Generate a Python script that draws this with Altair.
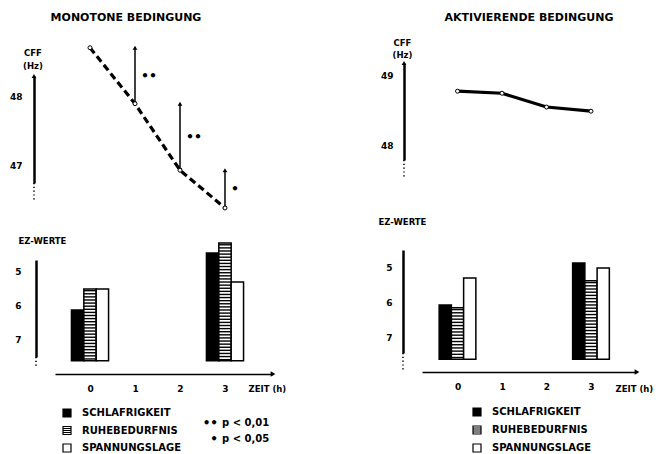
import altair as alt
import pandas as pd
import numpy as np

# ---------------- data ----------------
hours = [0, 1, 2, 3]
cff_monoton = [48.69, 47.89, 46.94, 46.40]
cff_aktiv = [48.78, 48.75, 48.55, 48.49]
sig_monoton = ["", "••", "••", "•"]

ez_hours = [0, 3]
ez_series = ["SCHLAFRIGKEIT", "RUHEBEDURFNIS", "SPANNUNGSLAGE"]
mono_schlaf = [6.13, 4.48]
mono_ruhe = [5.52, 4.19]
mono_spann = [5.52, 5.32]
akt_schlaf = [6.07, 4.89]
akt_ruhe = [6.15, 5.39]
akt_spann = [5.31, 5.03]

cff_ticks_mono = [47, 48]
cff_ticks_akt = [48, 49]
ez_ticks = [5, 6, 7]
x_ticks = [0, 1, 2, 3]
sig_marks = ["••", "•"]
sig_texts = ["p < 0,01", "p < 0,05"]
titles = ["MONOTONE  BEDINGUNG", "AKTIVIERENDE  BEDINGUNG"]

# ---------------- layout ----------------
W, H = 647, 446
FONT = "DejaVu Sans"
BW = 0.275          # width of one bar in hours
BASE = 7.6          # lower end of the EZ bars
STRIPE_STEP = 0.09
STRIPED = "M-1,-1H1V1H-1Z M-1,-0.5H1 M-1,0H1 M-1,0.5H1"

PL = dict(x_dom=[-0.778, 4.067], x_rng=[47, 265],
          cff_dom=[46.757, 48.286], cff_rng=[175, 68],
          ez_dom=[4.681, 7.493], ez_rng=[252, 349],
          cff_ax=26, cff_pad=12, cff_tx=-1.5, cff_ty=44, cff_lh=13,
          cff_dot=[175, 193],
          ez_ax=28, ez_pad=15, ez_tx=-18, ez_ty=232, ez_dot=[349, 359],
          x_ax=366, zeit_x=240, zeit_y=14,
          leg_x=59, leg_y=[405, 440], title_x=118, cff_ticks=cff_ticks_mono)
PR = dict(x_dom=[-0.798, 4.034], x_rng=[414, 629],
          cff_dom=[47.783, 49.188], cff_rng=[152, 55],
          ez_dom=[4.521, 7.423], ez_rng=[242, 345],
          cff_ax=396, cff_pad=11, cff_tx=-2, cff_ty=34, cff_lh=12,
          cff_dot=[152, 171],
          ez_ax=395, ez_pad=11, ez_tx=-25, ez_ty=213, ez_dot=[345, 363],
          x_ax=364, zeit_x=607, zeit_y=16,
          leg_x=469, leg_y=[404, 440], title_x=521, cff_ticks=cff_ticks_akt)


def sc(dom, rng):
    return alt.Scale(domain=dom, range=rng, nice=False, zero=False)


def axis_decor(p):
    """arrow heads and dotted continuations of the drawn axes"""
    one = pd.DataFrame({"xend": [p["x_dom"][1]], "ytop": [p["cff_dom"][1]]})
    xs, ys = sc(p["x_dom"], p["x_rng"]), sc(p["cff_dom"], p["cff_rng"])
    out = [
        alt.Chart(one).mark_point(shape="triangle-right", filled=True, color="black",
                                  size=30, opacity=1).encode(
            x=alt.X("xend:Q", scale=xs, axis=None), y=alt.value(p["x_ax"])),
        alt.Chart(one).mark_point(shape="triangle-up", filled=True, color="black",
                                  size=22, opacity=1).encode(
            x=alt.value(p["cff_ax"]), y=alt.Y("ytop:Q", scale=ys, axis=None)),
    ]
    for key, ax in (("cff_dot", p["cff_ax"]), ("ez_dot", p["ez_ax"])):
        out.append(alt.Chart(one).mark_rule(color="black", strokeWidth=1.6,
                                            strokeDash=[1.2, 2.6]).encode(
            x=alt.value(ax), y=alt.value(p[key][0]), y2=alt.value(p[key][1])))
    return out


def cff_layers(p, vals, solid, sig=None):
    df = pd.DataFrame({"h": hours, "cff": vals})
    xs, ys = sc(p["x_dom"], p["x_rng"]), sc(p["cff_dom"], p["cff_rng"])
    line_kw = dict(color="black", strokeWidth=3.2)
    if not solid:
        line_kw["strokeDash"] = [7, 4]
    yaxis = alt.Axis(orient="left", offset=-p["cff_ax"], values=p["cff_ticks"],
                     format="d", labelPadding=p["cff_pad"], domainWidth=2.5,
                     title=["CFF", "(Hz)"], titleAngle=0, titleX=p["cff_tx"],
                     titleY=p["cff_ty"], titleAlign="center", titleBaseline="middle",
                     titleLineHeight=p["cff_lh"], titleFontSize=8.5)
    line = alt.Chart(df).mark_line(**line_kw).encode(
        x=alt.X("h:Q", scale=xs, axis=None),
        y=alt.Y("cff:Q", scale=ys, axis=yaxis))
    out = [line]
    if sig is not None:
        adf = pd.DataFrame({"h": hours[1:], "top": vals[:-1], "bot": vals[1:],
                            "sig": sig[1:]})
        adf["mid"] = (adf["top"] + adf["bot"]) / 2
        xe = alt.X("h:Q", scale=xs, axis=None)
        out.append(alt.Chart(adf).mark_rule(color="black", strokeWidth=1.5).encode(
            x=xe, y=alt.Y("top:Q", scale=ys, axis=None), y2="bot:Q"))
        out.append(alt.Chart(adf).mark_point(shape="triangle-up", filled=True,
                                             color="black", size=22, opacity=1).encode(
            x=xe, y=alt.Y("top:Q", scale=ys, axis=None)))
        out.append(alt.Chart(adf).mark_point(shape="triangle-down", filled=True,
                                             color="black", size=22, opacity=1).encode(
            x=xe, y=alt.Y("bot:Q", scale=ys, axis=None)))
        out.append(alt.Chart(adf).mark_text(align="left", dx=6, font=FONT,
                                            fontSize=12.5, fontWeight="bold",
                                            color="black").encode(
            x=xe, y=alt.Y("mid:Q", scale=ys, axis=None), text="sig:N"))
    out.append(alt.Chart(df).mark_point(shape="circle", filled=True, fill="white",
                                        stroke="black", strokeWidth=1, size=16,
                                        opacity=1).encode(
        x=alt.X("h:Q", scale=xs, axis=None),
        y=alt.Y("cff:Q", scale=ys, axis=None)))
    return out


def bar_layers(p, schlaf, ruhe, spann):
    rows = []
    for i, (name, vals) in enumerate(zip(ez_series, [schlaf, ruhe, spann])):
        for h, v in zip(ez_hours, vals):
            rows.append({"series": name, "i": i, "h": h, "ez": v})
    df = pd.DataFrame(rows)
    xs, ys = sc(p["x_dom"], p["x_rng"]), sc(p["ez_dom"], p["ez_rng"])
    xaxis = alt.Axis(orient="bottom", offset=p["x_ax"] - H, values=x_ticks,
                     format="d", labelPadding=10, domainWidth=1.6, title="ZEIT (h)",
                     titleX=p["zeit_x"], titleY=p["zeit_y"], titleAlign="left",
                     titleBaseline="middle", titleFontSize=8.5)
    yaxis = alt.Axis(orient="left", offset=-p["ez_ax"], values=ez_ticks,
                     format="d", labelPadding=p["ez_pad"], domainWidth=2.5,
                     title="EZ-WERTE", titleAngle=0, titleX=p["ez_tx"],
                     titleY=p["ez_ty"], titleAlign="left", titleBaseline="middle",
                     titleFontSize=8.5)
    calc = dict(x1=f"datum.h + (datum.i - 1.5) * {BW}",
                x2=f"datum.h + (datum.i - 0.5) * {BW}")
    bars = alt.Chart(df).transform_calculate(base=str(BASE), **calc).mark_bar(
        stroke="black", strokeWidth=1.5).encode(
        x=alt.X("x1:Q", scale=xs, axis=xaxis),
        x2="x2:Q",
        y=alt.Y("ez:Q", scale=ys, axis=yaxis),
        y2="base:Q",
        fill=alt.Fill("series:N", scale=alt.Scale(domain=ez_series,
                                                  range=["black", "white", "white"]),
                      legend=None))
    srows = []
    for h, v in zip(ez_hours, ruhe):
        for s in np.arange(v + 0.05, BASE - 0.02, STRIPE_STEP):
            srows.append({"h": h, "i": 1, "s": s})
    sdf = pd.DataFrame(srows)
    stripes = alt.Chart(sdf).transform_calculate(**calc).mark_rule(
        color="black", strokeWidth=1.4).encode(
        x=alt.X("x1:Q", scale=xs, axis=None), x2="x2:Q",
        y=alt.Y("s:Q", scale=ys, axis=None))
    return [bars, stripes]


def legend_layers(p):
    df = pd.DataFrame({"series": ez_series})
    ys = alt.Scale(type="point", domain=ez_series, range=p["leg_y"], padding=0)
    sym = alt.Chart(df).mark_point(filled=True, stroke="black", strokeWidth=1.2,
                                   size=64, opacity=1).encode(
        x=alt.value(p["leg_x"]),
        y=alt.Y("series:N", scale=ys, axis=None),
        shape=alt.Shape("series:N", scale=alt.Scale(domain=ez_series,
                                                    range=["square", STRIPED, "square"]),
                        legend=None),
        fill=alt.Fill("series:N", scale=alt.Scale(domain=ez_series,
                                                  range=["black", "white", "white"]),
                      legend=None))
    txt = alt.Chart(df).mark_text(align="left", baseline="middle", font=FONT,
                                  fontSize=10, fontWeight="bold", color="black").encode(
        x=alt.value(p["leg_x"] + 15),
        y=alt.Y("series:N", scale=ys, axis=None),
        text="series:N")
    return [sym, txt]


def title_layer(p, text):
    return alt.Chart(pd.DataFrame({"t": [text]})).mark_text(
        font=FONT, fontSize=11, fontWeight="bold", color="black",
        baseline="middle").encode(text="t:N", x=alt.value(p["title_x"]),
                                  y=alt.value(10))


sig_df = pd.DataFrame({"m": sig_marks, "t": sig_texts})
sig_y = alt.Y("t:N", scale=alt.Scale(type="point", domain=sig_texts,
                                     range=[415, 431], padding=0), axis=None)
sig_layers = [
    alt.Chart(sig_df).mark_text(align="right", baseline="middle", font=FONT,
                                fontSize=12, fontWeight="bold", color="black").encode(
        text="m:N", x=alt.value(210), y=sig_y),
    alt.Chart(sig_df).mark_text(align="left", baseline="middle", font=FONT,
                                fontSize=10, fontWeight="bold", color="black").encode(
        text="t:N", x=alt.value(214), y=sig_y),
]

layers = []
layers += [title_layer(PL, titles[0]), title_layer(PR, titles[1])]
layers += axis_decor(PL) + axis_decor(PR)
layers += cff_layers(PL, cff_monoton, solid=False, sig=sig_monoton)
layers += cff_layers(PR, cff_aktiv, solid=True)
layers += bar_layers(PL, mono_schlaf, mono_ruhe, mono_spann)
layers += bar_layers(PR, akt_schlaf, akt_ruhe, akt_spann)
layers += legend_layers(PL) + legend_layers(PR)
layers += sig_layers

chart = alt.layer(*layers).resolve_scale(
    x="independent", y="independent", fill="independent", shape="independent"
).properties(
    width=W, height=H, autosize=alt.AutoSizeParams(type="none"), padding=0,
    background="white"
).configure_view(stroke=None).configure_axis(
    domainColor="black", ticks=False, tickSize=0, grid=False,
    labelFont=FONT, labelFontSize=9, labelFontWeight="bold", labelColor="black",
    titleFont=FONT, titleFontWeight="bold", titleColor="black"
)

chart.save("out.html", embed_options={"renderer": "svg", "actions": False})
